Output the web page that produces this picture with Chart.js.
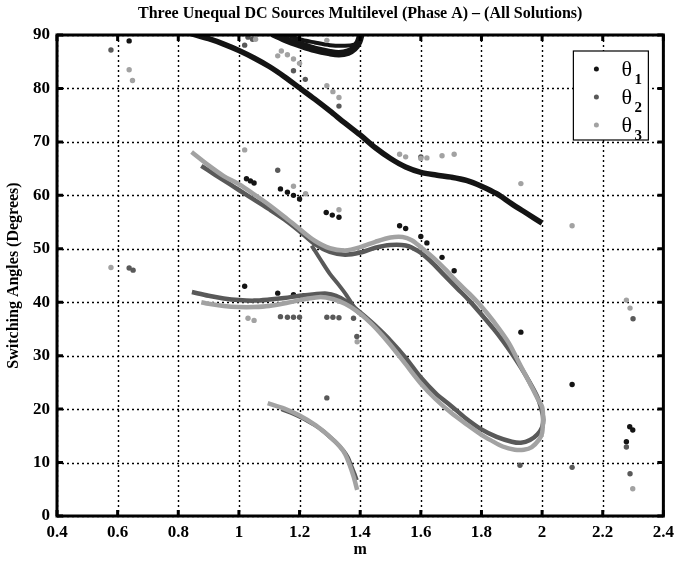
<!DOCTYPE html>
<html lang="en">
<head>
<meta charset="UTF-8">
<title>Three Unequal DC Sources Multilevel (Phase A)</title>
<script src="https://cdn.jsdelivr.net/npm/chart.js"></script>
<style>
  body { margin: 0; background: #fff; }
  canvas { display: block; }
</style>
</head>
<body>
<canvas id="angles" width="680" height="561"></canvas>
<script>
// axis ranges (modulation index m, switching angle in degrees)
const M_MIN = 0.4, M_MAX = 2.4, M_STEP = 0.2;
const DEG_MIN = 0, DEG_MAX = 90, DEG_STEP = 10;

const SERIES = ['θ1', 'θ2', 'θ3'];
const COLORS = ['#141414', '#595959', '#a2a2a2'];

// theta1 solution branches, [m, degrees]
const theta1Main = [
  [0.84, 90.3], [0.9, 89.3], [0.95, 88.3], [1.0, 87.1], [1.05, 85.7], [1.1, 84.1],
  [1.15, 82.2], [1.2, 80.1], [1.25, 78.0], [1.3, 75.8], [1.35, 73.5], [1.4, 71.3],
  [1.45, 68.9], [1.5, 66.9], [1.55, 65.3], [1.6, 64.3], [1.65, 63.8], [1.7, 63.4],
  [1.75, 62.8], [1.8, 61.7], [1.85, 60.3], [1.9, 58.4], [1.95, 56.6], [2.0, 54.8]
];
const theta1LoopLower = [
  [1.11, 90.3], [1.16, 89.0], [1.2, 88.2], [1.25, 87.3], [1.3, 86.7], [1.33, 86.5],
  [1.36, 86.8], [1.38, 87.5], [1.395, 88.7], [1.403, 90.3]
];
const theta1LoopUpper = [
  [1.15, 90.3], [1.2, 89.2], [1.25, 88.6], [1.3, 88.1], [1.35, 88.0], [1.38, 88.2], [1.395, 88.8]
];
const theta1Dots = [
  [0.638, 88.9], [1.025, 63.1], [1.038, 62.7], [1.05, 62.3], [1.137, 61.2], [1.16, 60.6],
  [1.18, 60.0], [1.2, 59.3], [1.288, 56.8], [1.308, 56.3], [1.33, 55.9], [1.53, 54.3],
  [1.55, 53.8], [1.6, 52.3], [1.62, 51.1], [1.67, 48.4], [1.71, 45.9], [1.93, 34.4],
  [2.099, 24.6], [2.289, 16.7], [2.299, 16.1], [2.278, 13.9], [1.019, 43.0], [1.128, 41.7],
  [1.18, 41.4], [1.215, 41.2], [1.332, 40.3]
];

// theta2 branches: main loop (upper arm -> m = 2 -> lower arm), steep link, small arc
const theta2Loop = [
  [0.876, 65.5], [0.92, 63.9], [0.97, 62.1], [1.0, 61.0], [1.05, 59.2], [1.1, 57.4],
  [1.15, 55.5], [1.2, 53.3], [1.25, 50.9], [1.3, 49.4], [1.35, 48.9], [1.4, 49.3],
  [1.45, 50.2], [1.5, 50.7], [1.55, 50.6], [1.59, 49.6], [1.63, 47.8], [1.67, 45.5],
  [1.72, 42.6], [1.76, 40.3], [1.8, 37.7], [1.84, 35.0], [1.87, 32.8], [1.9, 30.4],
  [1.93, 27.8], [1.96, 24.9], [1.985, 22.2], [2.0, 19.5], [2.004, 18.0], [2.0, 16.6],
  [1.985, 15.3], [1.96, 14.2], [1.93, 13.7], [1.9, 13.9], [1.85, 14.8], [1.8, 16.2],
  [1.75, 18.2], [1.7, 20.6], [1.65, 22.9], [1.6, 25.9], [1.55, 29.6], [1.5, 32.8],
  [1.45, 35.6], [1.41, 37.6], [1.38, 39.0], [1.35, 40.3], [1.32, 41.2], [1.29, 41.6],
  [1.25, 41.5], [1.2, 41.2], [1.15, 40.8], [1.1, 40.5], [1.05, 40.3], [1.0, 40.4],
  [0.95, 40.7], [0.9, 41.2], [0.845, 41.9]
];
const theta2Link = [
  [1.24, 50.6], [1.27, 47.9], [1.3, 45.3], [1.33, 43.2], [1.355, 41.3], [1.375, 39.5],
  [1.395, 38.0], [1.41, 37.5]
];
const theta2Arc = [
  [1.14, 20.0], [1.2, 18.6], [1.25, 17.0], [1.28, 15.8], [1.3, 14.8], [1.323, 13.6],
  [1.345, 12.2], [1.36, 10.9], [1.372, 9.2], [1.382, 7.8], [1.389, 6.7]
];
const theta2Dots = [
  [0.578, 87.2], [1.019, 88.1], [1.03, 89.6], [1.045, 89.2], [1.18, 83.3], [1.219, 81.7],
  [1.33, 76.7], [1.128, 64.7], [0.638, 46.4], [0.651, 46.0], [1.137, 37.3], [1.16, 37.2],
  [1.18, 37.2], [1.2, 37.2], [1.29, 37.2], [1.31, 37.2], [1.33, 37.1], [1.378, 37.0],
  [1.389, 33.6], [1.29, 22.1], [1.6, 67.2], [2.3, 36.9], [1.927, 9.5], [2.099, 9.1],
  [2.278, 12.9], [2.29, 7.9]
];

// theta3 branches
const theta3Loop = [
  [0.844, 68.1], [0.9, 65.6], [0.95, 63.6], [1.0, 62.1], [1.05, 60.2], [1.1, 58.2],
  [1.15, 56.0], [1.2, 53.7], [1.25, 51.5], [1.3, 50.1], [1.35, 49.7], [1.4, 50.3],
  [1.45, 51.3], [1.5, 52.1], [1.54, 52.2], [1.57, 51.6], [1.6, 50.3], [1.64, 48.4],
  [1.68, 46.2], [1.72, 43.8], [1.76, 41.6], [1.8, 39.2], [1.84, 36.4], [1.89, 32.4],
  [1.93, 28.0], [1.96, 24.8], [1.985, 22.0], [2.0, 20.4], [2.003, 18.5], [2.0, 15.5],
  [1.99, 14.3], [1.966, 12.9], [1.94, 12.4], [1.91, 12.4], [1.87, 13.0], [1.83, 14.2],
  [1.8, 15.2], [1.75, 17.2], [1.7, 19.3], [1.65, 21.8], [1.6, 24.8], [1.55, 28.4],
  [1.5, 32.0], [1.454, 35.0], [1.42, 36.9], [1.39, 38.3], [1.35, 39.7], [1.31, 40.6],
  [1.27, 41.0], [1.22, 40.6], [1.16, 39.9], [1.1, 39.3], [1.05, 39.1], [1.0, 39.1],
  [0.95, 39.3], [0.9, 39.7], [0.876, 40.0]
];
const theta3Arc = [
  [1.095, 21.1], [1.15, 20.1], [1.2, 18.8], [1.25, 17.1], [1.28, 15.8], [1.31, 14.3],
  [1.333, 13.0], [1.35, 11.6], [1.365, 9.6], [1.378, 7.4], [1.39, 4.9]
];
const theta3Dots = [
  [0.638, 83.5], [0.649, 81.5], [1.055, 89.2], [1.128, 86.1], [1.14, 87.0], [1.16, 86.3],
  [1.18, 85.5], [1.2, 84.7], [1.29, 89.0], [1.29, 80.5], [1.31, 79.4], [1.33, 78.3],
  [1.019, 68.5], [1.18, 61.7], [1.22, 60.3], [1.33, 57.3], [0.578, 46.5], [1.03, 37.0],
  [1.05, 36.6], [1.39, 32.6], [1.53, 67.7], [1.55, 67.2], [1.6, 66.9], [1.62, 67.0],
  [1.67, 67.4], [1.71, 67.7], [1.93, 62.2], [2.099, 54.3], [2.278, 40.4], [2.29, 38.9],
  [2.299, 5.1]
];

const toXY = pts => pts.map(([x, y]) => ({ x, y }));

function curve(points, idx, width) {
  return {
    label: SERIES[idx], data: toXY(points), showLine: true,
    borderColor: COLORS[idx], borderWidth: width, pointRadius: 0,
    tension: 0.3, clip: 0, order: 2 - idx
  };
}

function dots(points, idx) {
  return {
    label: SERIES[idx], data: toXY(points), showLine: false,
    backgroundColor: COLORS[idx], pointRadius: 2.7, pointBorderWidth: 0,
    clip: 4, order: 2 - idx
  };
}

// tick values along each axis
function steps(min, max, step) {
  const out = [];
  for (let i = 0; min + i * step <= max + 1e-9; i++) out.push(min + i * step);
  return out;
}
const M_TICKS = steps(M_MIN, M_MAX, M_STEP);
const DEG_TICKS = steps(DEG_MIN, DEG_MAX, DEG_STEP);

const serif = '"Liberation Serif", "Times New Roman", serif';

// dotted grid under the data
const gridPlugin = {
  id: 'dottedGrid',
  beforeDatasetsDraw(chart) {
    const ctx = chart.ctx, a = chart.chartArea;
    const xs = chart.scales.x, ys = chart.scales.y;
    ctx.save();
    ctx.strokeStyle = '#000';
    ctx.lineWidth = 1.4;
    ctx.setLineDash([2, 3]);
    ctx.beginPath();
    M_TICKS.forEach(v => {
      const px = Math.round(xs.getPixelForValue(v)) + 0.5;
      ctx.moveTo(px, a.top); ctx.lineTo(px, a.bottom);
    });
    DEG_TICKS.forEach(v => {
      const py = Math.round(ys.getPixelForValue(v)) + 0.5;
      ctx.moveTo(a.left, py); ctx.lineTo(a.right, py);
    });
    ctx.stroke();
    ctx.restore();
  }
};

// box around the axes, inward ticks on all four sides, and the legend
const framePlugin = {
  id: 'frame',
  afterDraw(chart) {
    const ctx = chart.ctx, a = chart.chartArea;
    const xs = chart.scales.x, ys = chart.scales.y;
    ctx.save();
    ctx.setLineDash([]);
    ctx.strokeStyle = '#000';
    ctx.lineWidth = 3;
    ctx.strokeRect(a.left, a.top, a.right - a.left, a.bottom - a.top);

    ctx.beginPath();
    M_TICKS.forEach(v => {
      const px = xs.getPixelForValue(v);
      ctx.moveTo(px, a.bottom); ctx.lineTo(px, a.bottom - 6);
      ctx.moveTo(px, a.top); ctx.lineTo(px, a.top + 6);
    });
    DEG_TICKS.forEach(v => {
      const py = ys.getPixelForValue(v);
      ctx.moveTo(a.left, py); ctx.lineTo(a.left + 6, py);
      ctx.moveTo(a.right, py); ctx.lineTo(a.right - 6, py);
    });
    ctx.stroke();

    // legend
    const bx = a.right - 90, by = a.top + 16, bw = 75, bh = 89;
    ctx.fillStyle = '#fff';
    ctx.fillRect(bx, by, bw, bh);
    ctx.lineWidth = 1.2;
    ctx.strokeRect(bx, by, bw, bh);
    SERIES.forEach((name, i) => {
      const cy = by + 18 + i * 28;
      ctx.fillStyle = COLORS[i];
      ctx.beginPath();
      ctx.arc(bx + 23, cy, 2.5, 0, Math.PI * 2);
      ctx.fill();
      ctx.fillStyle = '#000';
      ctx.textBaseline = 'alphabetic';
      ctx.textAlign = 'left';
      ctx.font = '22px ' + serif;
      ctx.fillText(name[0], bx + 48, cy + 7);
      ctx.font = 'bold 15px ' + serif;
      ctx.fillText(name.slice(1), bx + 61, cy + 15);
    });
    ctx.restore();
  }
};

const tickLabel = v => String(Math.round(v * 10) / 10);

new Chart(document.getElementById('angles'), {
  type: 'scatter',
  data: {
    datasets: [
      curve(theta1Main, 0, 5.5),
      curve(theta1LoopLower, 0, 7.5),
      curve(theta1LoopUpper, 0, 4),
      dots(theta1Dots, 0),
      curve(theta2Loop, 1, 4.5),
      curve(theta2Link, 1, 4),
      curve(theta2Arc, 1, 4),
      dots(theta2Dots, 1),
      curve(theta3Loop, 2, 4.5),
      curve(theta3Arc, 2, 4.5),
      dots(theta3Dots, 2)
    ]
  },
  options: {
    responsive: false,
    devicePixelRatio: 1,
    animation: false,
    layout: { padding: { left: 0, right: 10, top: 0, bottom: 0 } },
    plugins: {
      legend: { display: false },
      tooltip: { enabled: false },
      title: {
        display: true,
        fullSize: false,
        text: 'Three Unequal DC Sources Multilevel (Phase A) – (All Solutions)',
        color: '#000',
        font: { family: serif, size: 16, weight: 'bold', lineHeight: 1.2 },
        padding: { top: 4, bottom: 11.8 }
      }
    },
    scales: {
      x: {
        type: 'linear', min: M_MIN, max: M_MAX,
        ticks: { stepSize: M_STEP, color: '#000', padding: 6, callback: tickLabel,
                 font: { family: serif, size: 17, weight: 'bold' } },
        grid: { color: 'rgba(0,0,0,0)', drawTicks: false },
        border: { display: false },
        title: { display: true, text: 'm', color: '#000', padding: { top: 0, bottom: 2 },
                 font: { family: serif, size: 16, weight: 'bold', lineHeight: 1.2 } },
        afterFit: s => { s.height = 45; }
      },
      y: {
        type: 'linear', min: DEG_MIN, max: DEG_MAX,
        ticks: { stepSize: DEG_STEP, color: '#000', padding: 7, callback: tickLabel,
                 font: { family: serif, size: 17, weight: 'bold' } },
        grid: { color: 'rgba(0,0,0,0)', drawTicks: false },
        border: { display: false },
        title: { display: true, text: 'Switching Angles (Degrees)', color: '#000',
                 padding: { top: 4, bottom: 0 },
                 font: { family: serif, size: 16, weight: 'bold', lineHeight: 1.2 } },
        afterFit: s => { s.width = 57; }
      }
    }
  },
  plugins: [gridPlugin, framePlugin]
});
</script>
</body>
</html>
